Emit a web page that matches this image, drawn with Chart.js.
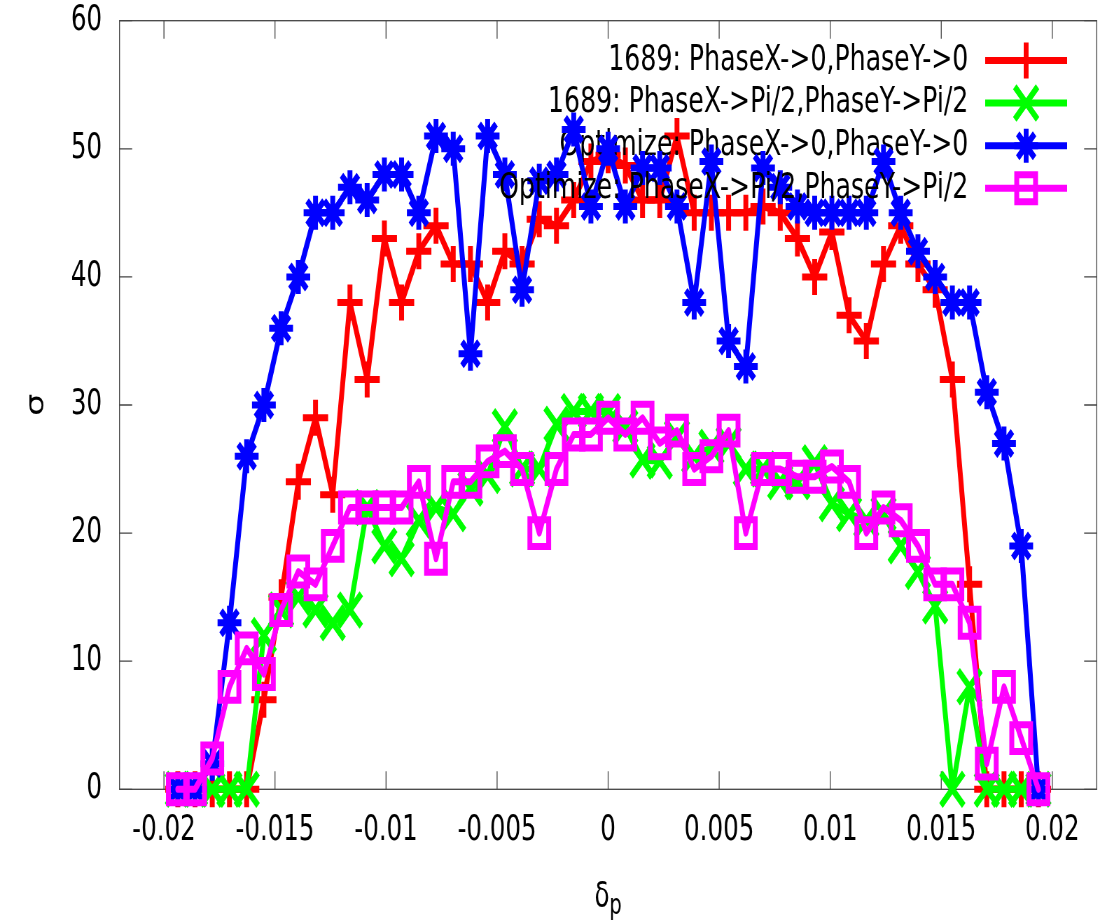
<!DOCTYPE html>
<html>
<head>
<meta charset="utf-8">
<title>sigma vs delta_p</title>
<script src="https://cdn.jsdelivr.net/npm/chart.js@4/dist/chart.umd.min.js"></script>
<style>
  html, body { margin: 0; padding: 0; background: #fff; overflow: hidden; }
  /* the original gnuplot png was squeezed sideways, so draw wide and squeeze */
  #wrap { width: 1581px; height: 923px; transform: scaleX(0.70019); transform-origin: 0 0; }
</style>
</head>
<body>
<div id="wrap"><canvas id="plot" width="1581" height="923"></canvas></div>
<script>
const deltaP = [
  -0.019375, -0.0186, -0.017825, -0.01705, -0.016275, -0.0155, -0.014725, -0.01395, -0.013175, -0.0124,
  -0.011625, -0.01085, -0.010075, -0.0093, -0.008525, -0.00775, -0.006975, -0.0062, -0.005425, -0.00465,
  -0.003875, -0.0031, -0.002325, -0.00155, -0.000775, 0, 0.000775, 0.00155, 0.002325, 0.0031,
  0.003875, 0.00465, 0.005425, 0.0062, 0.006975, 0.00775, 0.008525, 0.0093, 0.010075, 0.01085,
  0.011625, 0.0124, 0.013175, 0.01395, 0.014725, 0.0155, 0.016275, 0.01705, 0.017825, 0.0186, 0.019375
]

// 1689: PhaseX->0,PhaseY->0
const sigma1689Zero = [
  0, 0, 0, 0, 0, 7, 15, 24, 29, 23,
  38, 32, 43, 38, 42, 44, 41, 41, 38, 42,
  41, 44.5, 44, 46, 49, 49.5, 48.7, 46, 46, 51,
  45, 45, 45, 45, 45.5, 45, 43, 40, 43.5, 37,
  35, 41, 44, 41, 39, 32, 16, 0, 0, 0, 0
]
// 1689: PhaseX->Pi/2,PhaseY->Pi/2
const sigma1689Half = [
  0, 0, 0, 0, 0, 12, 14, 15, 14, 13,
  14, 22, 19, 18, 21, 22, 21.5, 23.5, 24.5, 28.3,
  25, 25, 28.5, 29.5, 29.5, 29.5, 28.3, 25.7, 25.6, 27.5,
  26, 26.7, 27, 25, 25, 24, 24, 25.5, 22.3, 21.5,
  21, 21.5, 19, 17, 14.3, 0, 8, 0, 0, 0, 0
]
// Optimize: PhaseX->0,PhaseY->0
const sigmaOptZero = [
  0, 0, 2, 13, 26, 30, 36, 40, 45, 45,
  47, 46, 48, 48, 45, 51, 50, 34, 51, 48,
  39, 47.5, 48, 51.5, 45.5, 50, 45.5, 48.5, 48.5, 45.5,
  38, 49, 35, 33, 48.5, 47, 45.5, 45, 45, 45,
  45, 49, 45, 42, 40, 38, 38, 31, 27, 19, 0
]
// Optimize: PhaseX->Pi/2,PhaseY->Pi/2
const sigmaOptHalf = [
  0, 0, 2.4, 8, 11, 9, 14, 17, 16, 19,
  22, 22, 22, 22, 24, 18, 24, 24, 25.6, 26.4,
  25, 20, 25, 27.7, 27.7, 29, 27.7, 29, 27, 28,
  25, 26, 28, 20, 25, 25, 24.4, 24.4, 25.2, 24,
  20, 22, 21, 19, 16, 16, 13, 2, 8, 4, 0
]

const xTicks = [-0.02, -0.015, -0.01, -0.005, 0, 0.005, 0.01, 0.015, 0.02]
const yTicks = [0, 10, 20, 30, 40, 50, 60]

const names = [
  '1689: PhaseX->0,PhaseY->0',
  '1689: PhaseX->Pi/2,PhaseY->Pi/2',
  'Optimize: PhaseX->0,PhaseY->0',
  'Optimize: PhaseX->Pi/2,PhaseY->Pi/2'
]
const series = [sigma1689Zero, sigma1689Half, sigmaOptZero, sigmaOptHalf]
const colors = ['#ff0000', '#00ff00', '#0000ff', '#ff00ff']
const markers = ['cross', 'crossRot', 'star', 'rect']
const markerRadius = [18, 23, 17, 19]

const family = '"DejaVu Sans", sans-serif'
const fontSize = 35

Chart.defaults.font.family = family
Chart.defaults.font.size = fontSize
Chart.defaults.color = '#000'

const datasets = series.map((vals, i) => ({
  label: names[i],
  data: deltaP.map((x, j) => ({ x, y: vals[j] })),
  borderColor: colors[i],
  backgroundColor: 'rgba(0,0,0,0)',
  borderWidth: 7,
  borderJoinStyle: 'round',
  borderCapStyle: 'round',
  pointStyle: markers[i],
  pointRadius: markerRadius[i],
  pointBorderWidth: 7,
  pointBorderColor: colors[i],
  pointBackgroundColor: 'rgba(0,0,0,0)',
  // gnuplot draws red first, magenta last
  order: series.length - i,
  clip: false
}))

// full box with inward ticks on all four sides
const frame = {
  id: 'frame',
  beforeDatasetsDraw (chart) {
    const { ctx, chartArea: a, scales } = chart
    const len = 18
    ctx.save()
    ctx.strokeStyle = '#444'
    ctx.lineWidth = 1.3
    ctx.strokeRect(a.left, a.top, a.right - a.left, a.bottom - a.top)
    ctx.beginPath()
    scales.x.ticks.forEach(t => {
      const px = scales.x.getPixelForValue(t.value)
      ctx.moveTo(px, a.bottom); ctx.lineTo(px, a.bottom - len)
      ctx.moveTo(px, a.top); ctx.lineTo(px, a.top + len)
    })
    scales.y.ticks.forEach(t => {
      const py = scales.y.getPixelForValue(t.value)
      ctx.moveTo(a.left, py); ctx.lineTo(a.left + len, py)
      ctx.moveTo(a.right, py); ctx.lineTo(a.right - len, py)
    })
    ctx.stroke()
    ctx.restore()
  }
}

// gnuplot style key: text right aligned, sample on the right,
// each entry drawn just before its own curve
const key = {
  id: 'key',
  beforeDatasetDraw (chart, args) {
    const ds = chart.data.datasets[args.index]
    const ctx = chart.ctx
    const textRight = 1383
    const lineLeft = 1407
    const lineRight = 1524
    const rowY = 60.5 + args.index * 42.6
    ctx.save()
    ctx.font = `36px ${family}`
    ctx.fillStyle = '#000'
    ctx.textAlign = 'right'
    ctx.textBaseline = 'middle'
    ctx.fillText(ds.label, textRight, rowY)
    ctx.strokeStyle = ds.borderColor
    ctx.lineWidth = ds.borderWidth
    ctx.lineCap = 'butt'
    ctx.beginPath()
    ctx.moveTo(lineLeft, rowY)
    ctx.lineTo(lineRight, rowY)
    ctx.stroke()
    if (Chart.helpers && Chart.helpers.drawPoint) {
      ctx.lineWidth = ds.pointBorderWidth
      ctx.fillStyle = 'rgba(0,0,0,0)'
      Chart.helpers.drawPoint(ctx, {
        pointStyle: ds.pointStyle,
        radius: ds.pointRadius,
        borderWidth: ds.pointBorderWidth,
        rotation: 0
      }, (lineLeft + lineRight) / 2, rowY)
    }
    ctx.restore()
  }
}

// x axis title with a subscript p
const xTitle = {
  id: 'xTitle',
  afterDraw (chart) {
    const { ctx, chartArea: a } = chart
    const cx = (a.left + a.right) / 2
    const base = a.bottom + 118
    ctx.save()
    ctx.fillStyle = '#000'
    ctx.textAlign = 'left'
    ctx.textBaseline = 'alphabetic'
    ctx.font = `${fontSize}px ${family}`
    const wd = ctx.measureText('δ').width
    ctx.font = `28px ${family}`
    const wp = ctx.measureText('p').width
    const x0 = cx - (wd + wp) / 2
    ctx.font = `${fontSize}px ${family}`
    ctx.fillText('δ', x0, base)
    ctx.font = `28px ${family}`
    ctx.fillText('p', x0 + wd, base + 7)
    ctx.restore()
  }
}

// invisible tick marks only push the labels away from the frame
const hiddenTicks = (len) => ({
  display: true,
  drawOnChartArea: false,
  drawTicks: true,
  tickLength: len,
  color: 'rgba(0,0,0,0)'
})

new Chart(document.getElementById('plot'), {
  type: 'line',
  data: { datasets },
  options: {
    responsive: false,
    animation: false,
    devicePixelRatio: 1,
    layout: {
      autoPadding: false,
      padding: { left: 0, right: 14.7, top: 20.7, bottom: 0 }
    },
    plugins: {
      legend: { display: false },
      tooltip: { enabled: false }
    },
    scales: {
      x: {
        type: 'linear',
        min: -0.022,
        max: 0.022,
        afterBuildTicks: (s) => { s.ticks = xTicks.map(value => ({ value })) },
        afterFit: (s) => {
          s.height = 133.7
          s.paddingLeft = 0
          s.paddingRight = 0
        },
        grid: hiddenTicks(21),
        border: { display: false },
        ticks: {
          padding: 0,
          autoSkip: false,
          maxRotation: 0,
          callback: (v) => String(v)
        }
      },
      y: {
        type: 'linear',
        min: 0,
        max: 60,
        afterBuildTicks: (s) => { s.ticks = yTicks.map(value => ({ value })) },
        afterFit: (s) => {
          s.width = 170.7
          s.paddingTop = 0
          s.paddingBottom = 0
        },
        grid: hiddenTicks(25),
        border: { display: false },
        ticks: {
          padding: 0,
          callback: (v) => String(v)
        },
        title: {
          display: true,
          text: 'σ',
          padding: { top: 32, bottom: 0 }
        }
      }
    }
  },
  plugins: [frame, key, xTitle]
})
</script>
</body>
</html>
